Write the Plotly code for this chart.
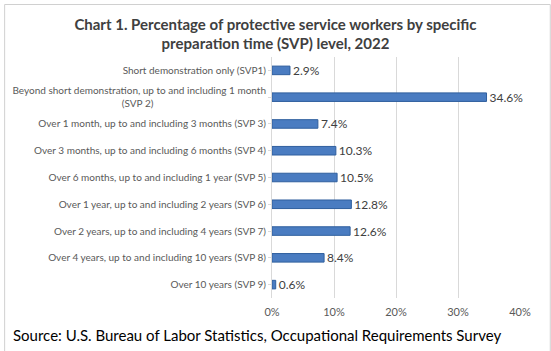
import plotly.graph_objects as go

categories = [
    "Short demonstration only (SVP1)",
    "Beyond short demonstration, up to and including 1 month<br>(SVP 2)" + "&nbsp;" * 44,
    "Over 1 month, up to and including 3 months (SVP 3)",
    "Over 3 months, up to and including 6 months (SVP 4)",
    "Over 6 months, up to and including 1 year (SVP 5)",
    "Over 1 year, up to and including 2 years (SVP 6)",
    "Over 2 years, up to and including 4 years (SVP 7)",
    "Over 4 years, up to and including 10 years (SVP 8)",
    "Over 10 years (SVP 9)",
]
values = [2.9, 34.6, 7.4, 10.3, 10.5, 12.8, 12.6, 8.4, 0.6]
x_ticks = [0, 10, 20, 30, 40]

FONT = "Lato, 'Open Sans', sans-serif"

fig = go.Figure(go.Bar(
    y=categories, x=values, orientation="h",
    width=0.32,
    marker=dict(color="#4a7cc1", line=dict(color="#2f5f9e", width=1)),
    text=[f"{v:.1f}%" for v in values],
    textposition="outside",
    constraintext="none",
    textfont=dict(family=FONT, size=12, color="#404040"),
    cliponaxis=False,
))

W, H = 551, 351
L, R, T, B = 270, 31, 57, 53
pw, ph = W - L - R, H - T - B

fig.update_layout(
    width=W, height=H,
    margin=dict(l=L, r=R, t=T, b=B),
    paper_bgcolor="white", plot_bgcolor="white",
    showlegend=False,
    title=dict(
        text="<b>Chart 1. Percentage of protective service workers by specific<br>preparation time (SVP) level, 2022</b>",
        x=0.5, xanchor="center", xref="container",
        y=1 - 29.5 / H, yanchor="middle", yref="container",
        font=dict(family=FONT, size=15, color="#404040"),
    ),
    xaxis=dict(
        range=[0, 40], tickvals=x_ticks, ticktext=[f"{t}%" for t in x_ticks],
        showgrid=True, gridcolor="#d9d9d9", gridwidth=1,
        zeroline=False, showline=False,
        tickfont=dict(family=FONT, size=11, color="#595959"),
        ticks="", ticklabelstandoff=6,
    ),
    yaxis=dict(
        autorange="reversed", showgrid=False,
        showline=True, linecolor="#d9d9d9", linewidth=1,
        ticks="outside", ticklen=3, tickcolor="#d9d9d9",
        tickfont=dict(family=FONT, size=10, color="#595959"),
    ),
    annotations=[dict(
        text="Source: U.S. Bureau of Labor Statistics, Occupational Requirements Survey",
        xref="paper", yref="paper",
        x=(7 - L) / pw, y=(H - T - 331) / ph,
        xanchor="left", yanchor="middle", showarrow=False,
        font=dict(family=FONT, size=15, color="#000000"),
    )],
    shapes=[dict(
        type="rect", xref="paper", yref="paper",
        x0=(0.5 - L) / pw, x1=(W - 0.5 - L) / pw,
        y0=(H - T - 0.5) / ph, y1=(H - T - (H - 0.5)) / ph,
        line=dict(color="#d0d0d0", width=1), layer="below",
    )],
)

fig.write_html("out.html")
